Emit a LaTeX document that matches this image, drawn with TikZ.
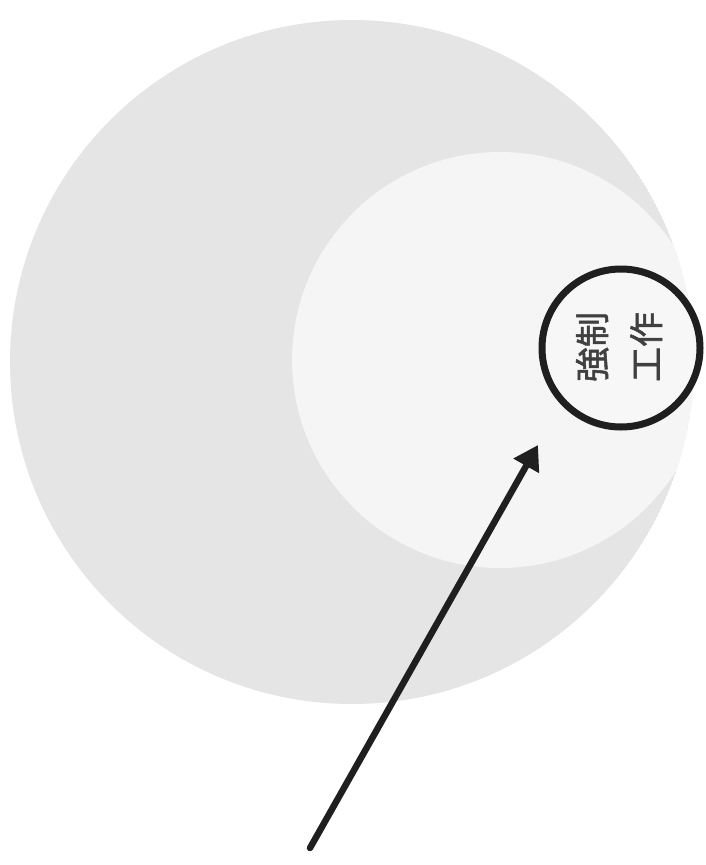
\documentclass[tikz,border=0pt]{standalone}
\usepackage{fontspec}
\newfontfamily\cjk[FakeBold=1.5]{Noto Sans CJK JP}
\usetikzlibrary{arrows.meta}
\begin{document}
\begin{tikzpicture}[x=1pt,y=-1pt,
  bigdisc/.style={circle,fill=black!10,draw=none,minimum size=684pt,inner sep=0pt},
  innerdisc/.style={circle,fill=black!4,draw=none,minimum size=416pt,inner sep=0pt},
  ring/.style={circle,draw=black!88,line width=7pt,fill=white!97!black,minimum size=158pt,inner sep=0pt},
  labeltext/.style={rotate=90,font=\cjk\fontsize{35}{54}\selectfont,text=black!75,align=center,inner sep=0pt},
  pointer/.style={draw=black!88,line width=6.5pt,line cap=round,-{Triangle[length=24pt,width=28pt]}}]
\useasboundingbox (0,0) rectangle (705,865);
\begin{scope}
\clip (352,362) circle (342);
\node[bigdisc] (big) at (352,362) {};
\node[innerdisc] (inner) at (500,360) {};
\end{scope}
\node[ring] (ring) at (621,348) {};
\node[labeltext] (label) at (619,347) {強制\\工作};
\coordinate (tail) at (310,848);
\coordinate (tip) at (538,445);
\draw[pointer] (tail) -- (tip);
\end{tikzpicture}
\end{document}
